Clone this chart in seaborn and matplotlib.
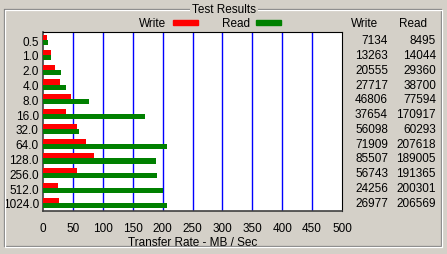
import matplotlib
matplotlib.use("Agg")
import matplotlib.pyplot as plt
import seaborn as sns
import pandas as pd
from matplotlib.patches import Rectangle
from matplotlib.lines import Line2D
from matplotlib.transforms import blended_transform_factory

sizes = ["0.5", "1.0", "2.0", "4.0", "8.0", "16.0", "32.0", "64.0", "128.0", "256.0", "512.0", "1024.0"]
write_kb = [7134, 13263, 20555, 27717, 46806, 37654, 56098, 71909, 85507, 56743, 24256, 26977]
read_kb = [8495, 14044, 29360, 38700, 77594, 170917, 60293, 207618, 189005, 191365, 200301, 206569]
xticks = [0, 50, 100, 150, 200, 250, 300, 350, 400, 450, 500]

BG = "#D4D0C8"
sns.set_theme(style="white")
plt.rcParams['font.family'] = ['Liberation Sans', 'DejaVu Sans']
plt.rcParams['text.color'] = 'black'
plt.rcParams['axes.labelcolor'] = 'black'
plt.rcParams['xtick.color'] = 'black'
plt.rcParams['ytick.color'] = 'black'

df = pd.DataFrame({
    "size": sizes * 2,
    "rate": [v / 1000 for v in write_kb] + [v / 1000 for v in read_kb],
    "type": ["Write"] * len(sizes) + ["Read"] * len(sizes),
})

W, H = 447, 255
fig = plt.figure(figsize=(W / 100, H / 100), dpi=100, facecolor=BG)
ax = fig.add_axes([43 / W, 1 - 212 / H, (342 - 43) / W, (212 - 33) / H])
ax.set_facecolor("white")

sns.barplot(data=df, y="size", x="rate", hue="type", orient="h", order=sizes,
            hue_order=["Write", "Read"], palette={"Write": "#FF0000", "Read": "#008000"},
            width=0.68, dodge=True, gap=0, legend=False, ax=ax, saturation=1,
            linewidth=0, errorbar=None, zorder=3)

ax.set_xlim(0, 500)
ax.set_ylim(len(sizes) - 0.5 + 0.05, -0.5 - 0.05)
ax.set_xticks(xticks)
ax.set_xticklabels([str(t) for t in xticks], fontsize=8.5)
ax.tick_params(axis="both", length=0, pad=3, labelsize=8.5, colors="black")
ax.tick_params(axis="x", pad=8)
ax.set_ylabel("")
ax.set_xlabel("Transfer Rate - MB / Sec", fontsize=8.5, labelpad=1, color="black")
for x in xticks[1:-1]:
    ax.axvline(x, color="#0000FF", lw=1, zorder=1)
for s in ["left", "bottom"]:
    ax.spines[s].set_color("#404040")
    ax.spines[s].set_linewidth(1.2)
for s in ["top", "right"]:
    ax.spines[s].set_color("#000000")
    ax.spines[s].set_linewidth(0.8)

# group box (etched)
def fx(px):
    return px / W
def fy(py):
    return 1 - py / H
for off, col in [(0, "#808080"), (1, "#FFFFFF")]:
    l, r, t, b = 4 + off, 441 + off, 10 + off, 247 + off
    for xs, ys in [([l, r], [t, t]), ([l, r], [b, b]), ([l, l], [t, b]), ([r, r], [t, b])]:
        fig.add_artist(Line2D([fx(xs[0]), fx(xs[1])], [fy(ys[0]), fy(ys[1])],
                              color=col, lw=0.9, transform=fig.transFigure))
fig.text(fx(224), fy(10), "Test Results", ha="center", va="center", fontsize=8.5,
         bbox=dict(facecolor=BG, edgecolor="none", pad=1.5))

# legend
fig.text(fx(153), fy(24), "Write", ha="center", va="center", fontsize=8.5)
fig.add_artist(Rectangle((fx(173), fy(26)), fx(25), 5 / H, color="#FF0000", transform=fig.transFigure))
fig.text(fx(236), fy(24), "Read", ha="center", va="center", fontsize=8.5)
fig.add_artist(Rectangle((fx(256), fy(26)), fx(25), 5 / H, color="#008000", transform=fig.transFigure))

# table
fig.text(fx(365), fy(24), "Write", ha="center", va="center", fontsize=8.5)
fig.text(fx(413), fy(24), "Read", ha="center", va="center", fontsize=8.5)
tr = blended_transform_factory(fig.transFigure, ax.transData)
for i in range(len(sizes)):
    fig.text(fx(388), i, str(write_kb[i]), ha="right", va="center", fontsize=8.5, transform=tr)
    fig.text(fx(436), i, str(read_kb[i]), ha="right", va="center", fontsize=8.5, transform=tr)

fig.savefig("out.png", dpi=100, facecolor=BG)
